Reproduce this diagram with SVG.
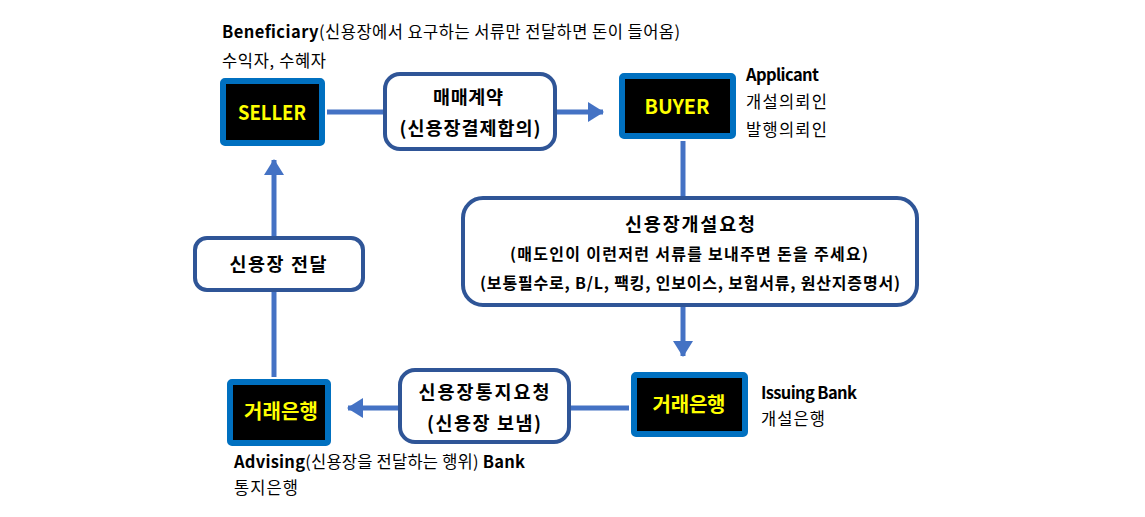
<svg xmlns="http://www.w3.org/2000/svg" width="1145" height="517" viewBox="0 0 1145 517">
<defs>
<style>
text{font-family:"Noto Sans CJK KR","Noto Sans",sans-serif;fill:#000}
.lbl{font-size:16.5px}
.b{font-weight:bold}
.party{fill:#000;stroke:#0070C0;stroke-width:6}
.ptxt{fill:#FFFF00;font-size:20px;font-weight:bold;text-anchor:middle}
.proc{fill:#fff;stroke:#2F5597;stroke-width:4}
.btxt{font-size:18.5px;font-weight:bold;text-anchor:middle}
.stxt{font-size:16px;font-weight:bold;text-anchor:middle}
.conn{stroke:#4472C4;stroke-width:5;fill:none}
</style>
<marker id="ah" markerWidth="4" markerHeight="4" refX="3" refY="2" orient="auto" markerUnits="strokeWidth">
<path d="M0,0 L3.2,2 L0,4 z" fill="#4472C4"/>
</marker>
</defs>
<rect width="1145" height="517" fill="#fff"/>
<g id="connectors">
<line class="conn" x1="327" y1="112" x2="383" y2="112"/>
<line class="conn" x1="557" y1="112" x2="603" y2="112" marker-end="url(#ah)"/>
<line class="conn" x1="683" y1="141" x2="683" y2="196"/>
<line class="conn" x1="683" y1="307" x2="683" y2="356" marker-end="url(#ah)"/>
<line class="conn" x1="629" y1="408" x2="570" y2="408"/>
<line class="conn" x1="398" y1="408" x2="348" y2="408" marker-end="url(#ah)"/>
<line class="conn" x1="274" y1="377" x2="274" y2="292"/>
<line class="conn" x1="274" y1="236" x2="274" y2="160" marker-end="url(#ah)"/>
</g>
<g id="seller">
<rect class="party" x="223" y="81" width="99" height="62" rx="2"/>
<text class="ptxt" x="272" y="120" textLength="68" lengthAdjust="spacingAndGlyphs">SELLER</text>
</g>
<g id="seller-label">
<text class="lbl" x="222" y="38" textLength="458"><tspan class="b">Beneficiary</tspan>(신용장에서 요구하는 서류만 전달하면 돈이 들어옴)</text>
<text class="lbl" x="222" y="67" textLength="104">수익자, 수혜자</text>
</g>
<g id="contract">
<rect class="proc" x="385" y="74" width="170" height="75" rx="15"/>
<text class="btxt" x="468" y="104" textLength="70">매매계약</text>
<text class="btxt" x="470" y="135" textLength="141">(신용장결제합의)</text>
</g>
<g id="buyer">
<rect class="party" x="622" y="76" width="111" height="60" rx="2"/>
<text class="ptxt" x="677" y="114" textLength="65" lengthAdjust="spacingAndGlyphs">BUYER</text>
</g>
<g id="buyer-label">
<text class="lbl b" x="746" y="81" textLength="73">Applicant</text>
<text class="lbl" x="746" y="108" textLength="81">개설의뢰인</text>
<text class="lbl" x="746" y="136" textLength="81">발행의뢰인</text>
</g>
<g id="lc-request">
<rect class="proc" x="463" y="198" width="454" height="107" rx="20"/>
<text class="btxt" x="690" y="231" textLength="130">신용장개설요청</text>
<text class="stxt" x="689" y="260" textLength="358">(매도인이 이런저런 서류를 보내주면 돈을 주세요)</text>
<text class="stxt" x="690" y="289" textLength="420">(보통필수로, B/L, 팩킹, 인보이스, 보험서류, 원산지증명서)</text>
</g>
<g id="issuing-bank">
<rect class="party" x="634" y="375" width="111" height="59" rx="2"/>
<text class="ptxt" x="689" y="412" textLength="73">거래은행</text>
</g>
<g id="issuing-label">
<text class="lbl b" x="761" y="399" textLength="96">Issuing Bank</text>
<text class="lbl" x="761" y="425" textLength="64">개설은행</text>
</g>
<g id="notify">
<rect class="proc" x="400" y="370" width="169" height="72" rx="15"/>
<text class="btxt" x="484" y="399" textLength="131">신용장통지요청</text>
<text class="btxt" x="484" y="430" textLength="114">(신용장 보냄)</text>
</g>
<g id="advising-bank">
<rect class="party" x="230" y="382" width="98" height="61" rx="2"/>
<text class="ptxt" x="281" y="419" textLength="74">거래은행</text>
</g>
<g id="advising-label">
<text class="lbl" x="234" y="468" textLength="291"><tspan class="b">Advising</tspan>(신용장을 전달하는 행위) <tspan class="b">Bank</tspan></text>
<text class="lbl" x="234" y="494" textLength="64">통지은행</text>
</g>
<g id="deliver">
<rect class="proc" x="195" y="238" width="168" height="52" rx="12"/>
<text class="btxt" x="278" y="271" textLength="97">신용장 전달</text>
</g>
</svg>
